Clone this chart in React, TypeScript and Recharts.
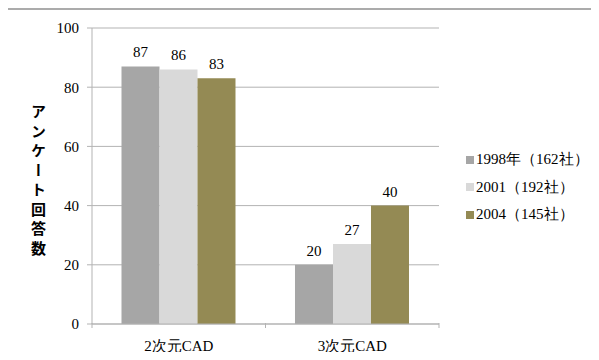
import React from 'react';
import { BarChart, Bar, XAxis, YAxis, CartesianGrid, LabelList } from 'recharts';

const categories = ['2次元CAD', '3次元CAD'];
const series1998 = [87, 20];
const series2001 = [86, 27];
const series2004 = [83, 40];
const seriesNames = ['1998年（162社）', '2001（192社）', '2004（145社）'];
const seriesColors = ['#A6A6A6', '#D9D9D9', '#948A54'];
const yTicks = [0, 20, 40, 60, 80, 100];
const yTitle = 'アンケート回答数';

const data = categories.map((c, i) => ({
  name: c,
  s1998: series1998[i],
  s2001: series2001[i],
  s2004: series2004[i],
}));
const keys = ['s1998', 's2001', 's2004'];

const SERIF = "'Liberation Serif', serif";
const GRID = '#B3B3B3';
const BORDER = '#ABABAB';

const XTick = (props: any) => {
  const { x, y, payload, index } = props;
  const off = payload && payload.offset ? payload.offset : 86.75;
  const axisY = y - 8;
  return (
    <g>
      <line x1={x - off} y1={axisY - 1} x2={x - off} y2={axisY + 4} stroke={GRID} strokeWidth={1} />
      {index === categories.length - 1 && (
        <line x1={x + off} y1={axisY - 1} x2={x + off} y2={axisY + 4} stroke={GRID} strokeWidth={1} />
      )}
      <text x={x} y={axisY + 22} textAnchor="middle" dominantBaseline="central" fontFamily={SERIF} fontSize={15} fill="#000">
        {payload.value}
      </text>
    </g>
  );
};

export default function App() {
  return (
    <div style={{ position: 'relative', width: 599, height: 360, margin: -8, overflow: 'hidden', background: '#fff', fontFamily: SERIF }}>
      <div style={{ position: 'absolute', left: 0, top: 0 }}>
        <BarChart
          width={599}
          height={360}
          data={data}
          margin={{ top: 28, right: 160, left: 0, bottom: 0 }}
          barCategoryGap="17%"
          barGap={0}
        >
          <CartesianGrid vertical={false} stroke={GRID} strokeWidth={1} />
          <XAxis
            dataKey="name"
            height={36}
            axisLine={{ stroke: GRID }}
            tickLine={false}
            tickSize={0}
            tickMargin={8}
            tick={<XTick />}
            interval={0}
          />
          <YAxis
            width={92}
            domain={[0, 100]}
            ticks={yTicks}
            axisLine={{ stroke: GRID }}
            tickLine={{ stroke: GRID }}
            tickSize={5}
            tickMargin={8}
            tick={{ fill: '#000', fontSize: 15, fontFamily: SERIF }}
          />
          {keys.map((k, i) => (
            <Bar key={k} dataKey={k} name={seriesNames[i]} fill={seriesColors[i]} isAnimationActive={false}>
              <LabelList dataKey={k} position="top" offset={9} fill="#000" fontSize={15} fontFamily={SERIF} />
            </Bar>
          ))}
        </BarChart>
      </div>
      <div
        style={{
          position: 'absolute',
          left: 31,
          top: 104,
          writingMode: 'vertical-rl',
          fontFamily: "'Noto Sans CJK JP', sans-serif",
          fontWeight: 'bold',
          fontSize: 15,
          letterSpacing: 4.5,
          lineHeight: 1,
          color: '#000',
        }}
      >
        {yTitle}
      </div>
      <div style={{ position: 'absolute', left: 466, top: 146, fontFamily: SERIF, fontSize: 15, color: '#000' }}>
        {seriesNames.map((n, i) => (
          <div key={n} style={{ display: 'flex', alignItems: 'center', height: 27.5, whiteSpace: 'nowrap' }}>
            <span style={{ display: 'inline-block', width: 8, height: 8, background: seriesColors[i], marginRight: 2 }} />
            <span style={{ lineHeight: 1 }}>{n}</span>
          </div>
        ))}
      </div>
      <div style={{ position: 'absolute', left: 6, top: 8, width: 2, height: 400, background: BORDER }} />
      <div style={{ position: 'absolute', left: 6, top: 8, width: 700, height: 2, background: BORDER }} />
    </div>
  );
}
